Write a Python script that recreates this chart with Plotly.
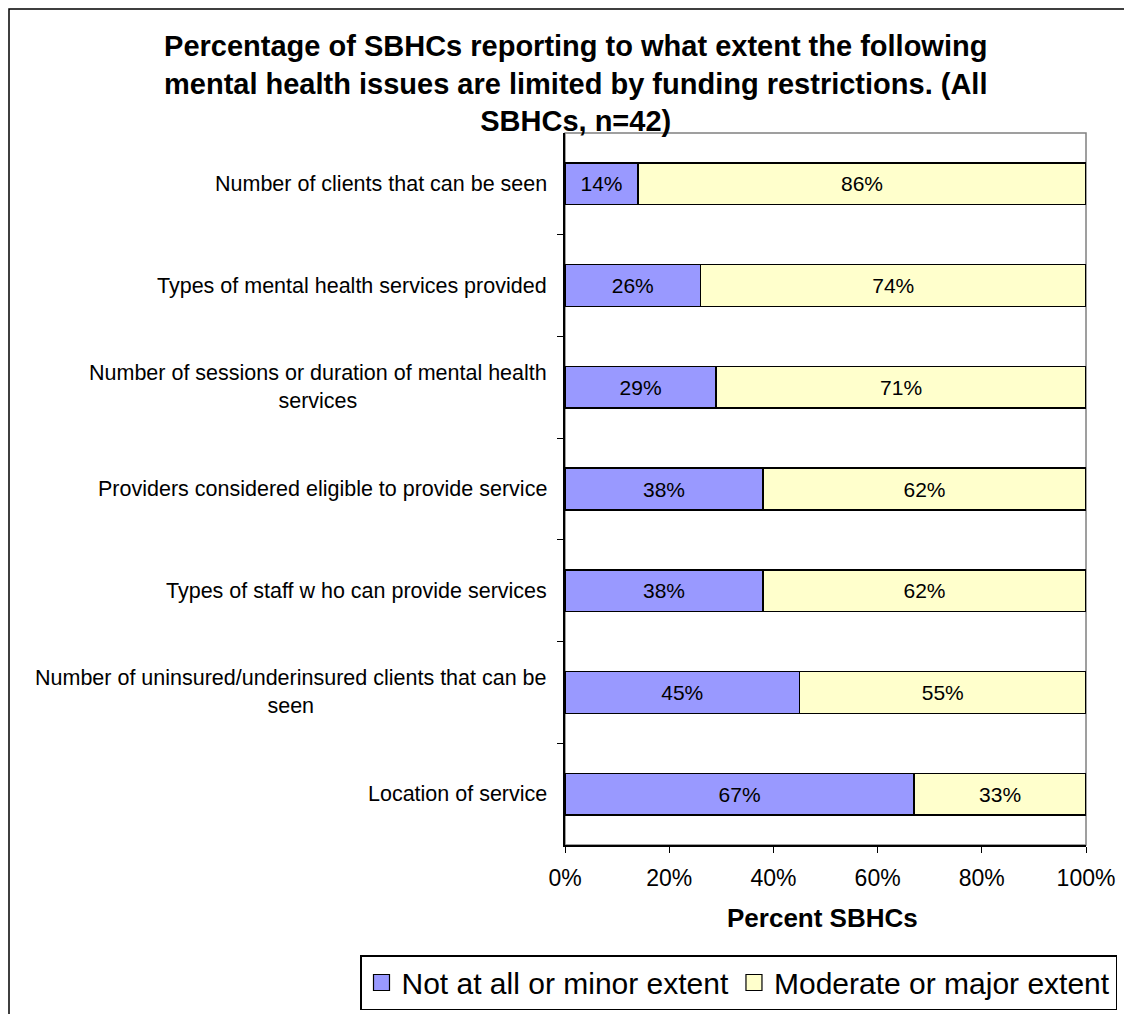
import plotly.graph_objects as go

categories = [
    "Number of clients that can be seen",
    "Types of mental health services provided",
    "Number of sessions or duration of mental health<br>services",
    "Providers considered eligible to provide service",
    "Types of staff w ho can provide services",
    "Number of uninsured/underinsured clients that can be<br>seen",
    "Location of service",
]
not_at_all = [14, 26, 29, 38, 38, 45, 67]
moderate = [86, 74, 71, 62, 62, 55, 33]
series_names = ["Not at all or minor extent", "Moderate or major extent"]
series_colors = ["#9999FF", "#FFFFCC"]
x_ticks = [0, 20, 40, 60, 80, 100]
title_text = ("Percentage of SBHCs reporting to what extent the following<br>"
              "mental health issues are limited by funding restrictions. (All<br>"
              "SBHCs, n=42)")

OFF = 8  # page body margin
W, H = 1132 - 2 * OFF, 1022 - 2 * OFF
# plot area in page pixels
L, R, T, B = 565, 1086, 133, 845
pw, ph = R - L, B - T


def px(x):
    return (x - L) / pw


def py(y):
    return (B - y) / ph


FONT = "Liberation Sans, Arial, sans-serif"
keys = list(range(len(categories)))

fig = go.Figure()
for vals, name, col in zip([not_at_all, moderate], series_names, series_colors):
    fig.add_trace(go.Bar(
        y=keys, x=vals, orientation="h", name=name, showlegend=False,
        marker=dict(color=col, line=dict(color="black", width=1.5)),
        text=[f"{v}%" for v in vals], textposition="inside",
        insidetextanchor="middle", textangle=0,
        textfont=dict(size=21, color="black", family=FONT),
    ))
# legend entries with larger square swatches
for name, col in zip(series_names, series_colors):
    fig.add_trace(go.Scatter(
        x=[None], y=[None], mode="markers", name=name, showlegend=True,
        marker=dict(symbol="square", size=16, color=col,
                    line=dict(color="black", width=1.2)),
    ))

annotations = []
for k, c in zip(keys, categories):
    annotations.append(dict(
        x=px(549), xref="paper", y=k, yref="y", text=c, showarrow=False,
        xanchor="right", yanchor="middle", align="center",
        font=dict(size=21.5, color="black", family=FONT),
    ))

annotations.append(dict(
    x=px(575), xref="paper", y=py(83), yref="paper",
    text=title_text,
    showarrow=False, xanchor="center", yanchor="middle", align="center",
    font=dict(size=29, color="black", family=FONT, weight="bold"),
))
annotations.append(dict(
    x=px(822), xref="paper", y=py(918), yref="paper",
    text="<b>Percent SBHCs</b>", showarrow=False,
    xanchor="center", yanchor="middle",
    font=dict(size=26, color="black", family=FONT),
))

shapes = [
    dict(type="rect", xref="paper", yref="paper", x0=0, x1=1, y0=0, y1=1,
         line=dict(color="#808080", width=1.5), layer="below"),
    dict(type="rect", xref="paper", yref="paper", x0=px(9), x1=px(1160),
         y0=py(1060), y1=py(9), line=dict(color="black", width=1.5)),
]

fig.update_layout(
    width=W, height=H,
    margin=dict(l=L - OFF, r=W - (R - OFF), t=T - OFF, b=H - (B - OFF),
                autoexpand=False),
    paper_bgcolor="white", plot_bgcolor="white",
    barmode="stack", bargap=0.59,
    showlegend=True,
    legend=dict(
        orientation="h", x=px(360), y=py(955), xanchor="left", yanchor="top",
        bordercolor="black", borderwidth=1.5, bgcolor="white",
        font=dict(size=30, color="black", family=FONT),
        traceorder="normal", itemwidth=30,
    ),
    xaxis=dict(
        range=[0, 100], tickvals=x_ticks, ticktext=[f"{v}%" for v in x_ticks],
        showgrid=False, zeroline=False, showline=True, linecolor="black",
        linewidth=1.5, ticks="outside", ticklen=6, tickcolor="black",
        ticklabelstandoff=6,
        tickfont=dict(size=23, color="black", family=FONT),
    ),
    yaxis=dict(
        type="linear", range=[len(categories) - 0.5, -0.5],
        tickvals=[k + 0.5 for k in keys[:-1]], showticklabels=False,
        showgrid=False, zeroline=False, showline=True, linecolor="black",
        linewidth=1.5, ticks="outside", ticklen=6, tickcolor="black",
    ),
    annotations=annotations,
    shapes=shapes,
)

fig.write_html("out.html")
